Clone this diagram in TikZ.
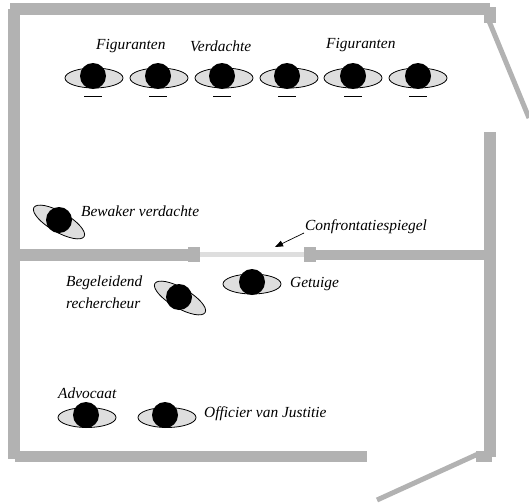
\documentclass[tikz,border=0pt]{standalone}
\usepackage{fontspec}
\setmainfont{Liberation Serif}
\usetikzlibrary{shapes.geometric,arrows.meta}
\definecolor{wallgrey}{HTML}{B2B2B2}
\definecolor{mirrorgrey}{HTML}{DEDEDE}
\tikzset{
  wall/.style={fill=wallgrey,draw=none},
  door/.style={draw=wallgrey,line width=5pt},
  body/.style={ellipse,draw=black,fill=mirrorgrey,line width=0.8pt,minimum width=58pt,minimum height=20pt,inner sep=0pt},
  head/.style={circle,fill=black,minimum size=26pt,inner sep=0pt},
  lab/.style={font=\itshape\fontsize{15.4}{17}\selectfont,inner sep=0pt,anchor=west},
  dashline/.style={draw=black,line width=0.8pt}
}
\begin{document}
\begin{tikzpicture}[x=1pt,y=-1pt]
\useasboundingbox (0,0) rectangle (529,503);
% walls
\fill[wall] (10,3) rectangle (490,15);
\fill[wall] (8,9) rectangle (20,459);
\fill[wall] (15,451) rectangle (367,462);
\fill[wall] (484,7) rectangle (496,23);
\fill[wall] (484,132) rectangle (496,457);
\fill[wall] (476,451) rectangle (492,462);
\fill[wall] (20,249) rectangle (200,261);
\fill[wall] (188,247) rectangle (200,262);
\fill[wall] (304,247) rectangle (316,262);
\fill[wall] (316,250) rectangle (484,260);
\fill[mirrorgrey] (200,252) rectangle (304,257);
% doors
\coordinate (d1a) at (489,21); \coordinate (d1b) at (529,118);
\coordinate (d2a) at (478,454); \coordinate (d2b) at (377,500);
\draw[door] (d1a) -- (d1b);
\draw[door] (d2a) -- (d2b);
% row of people
\foreach \n/\ex/\cx in {a/94/93,b/159/158,c/224/222,d/289/287,e/353/353,f/418/418}{
  \node[body] (b\n) at (\ex,78) {};
  \node[head] (h\n) at (\cx,76) {};
  \coordinate (ml\n) at (\cx-9,96);
  \coordinate (mr\n) at (\cx+9,96);
  \draw[dashline] (ml\n) -- (mr\n);
}
% other people
\node[body,rotate=-30] (bw) at (59,222) {};
\node[head] (hw) at (59,220) {};
\node[body,rotate=-30] (br) at (180,298) {};
\node[head] (hr) at (179,297) {};
\node[body] (bg) at (252,284) {};
\node[head] (hg) at (252,282) {};
\node[body] (ba) at (87,417.5) {};
\node[head] (ha) at (86,415) {};
\node[body] (bo) at (167,417.5) {};
\node[head] (ho) at (165,415) {};
% labels
\node[lab] (t1) at (96,46) {Figuranten};
\node[lab] (t2) at (190,46) {Verdachte};
\node[lab] (t3) at (326,45) {Figuranten};
\node[lab] (t4) at (81,211) {Bewaker verdachte};
\node[lab] (t5) at (305,227) {Confrontatiespiegel};
\node[lab] (t6) at (290,284) {Getuige};
\node[lab] (t7) at (66,283) {Begeleidend};
\node[lab] (t8) at (66,303) {rechercheur};
\node[lab] (t9) at (58,393) {Advocaat};
\node[lab] (t10) at (204,414) {Officier van Justitie};
% arrow
\coordinate (mirror) at (275,247);
\coordinate (arrowstart) at (304,233);
\draw[-{Triangle[length=8pt,width=6pt]},line width=0.7pt] (arrowstart) -- (mirror);
\end{tikzpicture}
\end{document}
